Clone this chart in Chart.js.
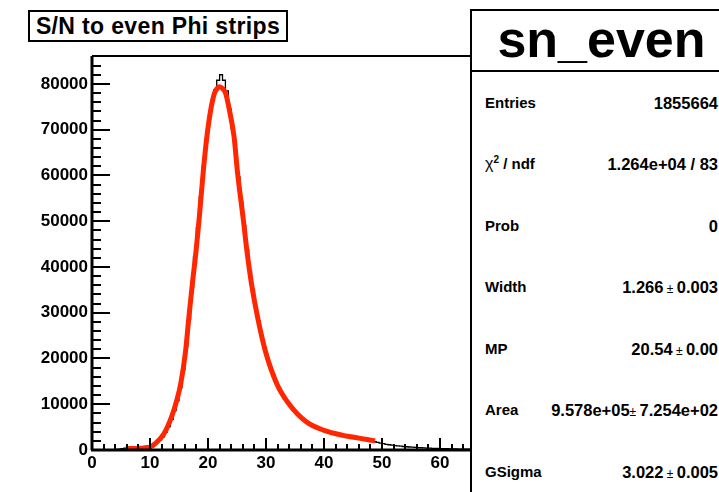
<!DOCTYPE html>
<html>
<head>
<meta charset="utf-8">
<script src="https://cdn.jsdelivr.net/npm/chart.js@4.4.1/dist/chart.umd.min.js"></script>
<style>
  html, body { margin: 0; padding: 0; background: #fff; }
  #wrap { position: relative; width: 719px; height: 492px; overflow: hidden; font-family: "Liberation Sans", Arial, sans-serif; }
  #c { position: absolute; left: 0; top: 0; }
  .title {
    position: absolute; left: 28px; top: 10px; width: 256px; height: 28px;
    border: 2px solid #000; background: #fff;
    font-weight: bold; font-size: 23px; letter-spacing: 0.35px; line-height: 28px; text-align: center; color: #000;
  }
  .stats {
    position: absolute; left: 470px; top: 9px; width: 259px; height: 520px;
    border: 2px solid #000; background: #fff; color: #000;
  }
  .stats .head {
    height: 59px; border-bottom: 2px solid #000;
    font-weight: bold; font-size: 52px; line-height: 56px; text-align: center;
  }
  .row { position: absolute; left: 13px; right: 13px; height: 20px; line-height: 20px; font-weight: bold; }
  .row .lab { position: absolute; left: 0; font-size: 15px; }
  .row .val { position: absolute; right: 0; font-size: 16.5px; white-space: nowrap; }
  .pm { font-weight: normal; font-size: 12px; }
  .chi { font-weight: normal; font-size: 16px; }
  sup { font-size: 10px; line-height: 0; vertical-align: 6px; }
</style>
</head>
<body>
<div id="wrap">
  <canvas id="c" width="719" height="492"></canvas>
  <div class="title">S/N to even Phi strips</div>
  <div class="stats">
    <div class="head">sn_even</div>
    <div class="row" style="top:82px"><span class="lab">Entries</span><span class="val">1855664</span></div>
    <div class="row" style="top:143px"><span class="lab"><span class="chi">&chi;</span><sup>2</sup> / ndf</span><span class="val">1.264e+04 / 83</span></div>
    <div class="row" style="top:205px"><span class="lab">Prob</span><span class="val">0</span></div>
    <div class="row" style="top:266px"><span class="lab">Width</span><span class="val">1.266<span class="pm"> &plusmn; </span>0.003</span></div>
    <div class="row" style="top:328px"><span class="lab">MP</span><span class="val">20.54<span class="pm"> &plusmn; </span>0.00</span></div>
    <div class="row" style="top:389px"><span class="lab">Area</span><span class="val">9.578e+05<span class="pm">&plusmn; </span>7.254e+02</span></div>
    <div class="row" style="top:451px"><span class="lab">GSigma</span><span class="val">3.022<span class="pm"> &plusmn; </span>0.005</span></div>
  </div>
</div>
<script>
// histogram: 0.5-wide bins starting at 0 (counts)
const BIN_WIDTH = 0.5;
const counts = [
  0, 0, 0, 0, 0, 10, 30, 60, 120, 200,
  300, 400, 480, 560, 620, 650, 680, 720, 780, 880,
  1050, 1300, 1700, 2200, 2900, 3900, 5100, 6700, 8600, 10800,
  13600, 17500, 22600, 28600, 35400, 42300, 48600, 55300, 62000, 68000,
  72800, 76300, 78700, 80800, 82000, 80800, 78500, 74500, 70200, 65400,
  59700, 54200, 49000, 43800, 39200, 35100, 31400, 28200, 25100, 22400,
  20200, 18200, 16500, 14900, 13500, 12300, 11200, 10300, 9500, 8700,
  8000, 7400, 6900, 6400, 6000, 5600, 5300, 5000, 4700, 4450,
  4250, 4050, 3850, 3650, 3500, 3350, 3200, 3050, 2950, 2850,
  2700, 2600, 2500, 2400, 2250, 2100, 1950, 1800, 1650, 1500,
  1380, 1250, 1150, 1050, 970, 900, 830, 770, 710, 660,
  610, 570, 530, 490, 460, 430, 400, 370, 350, 330,
  310, 290, 270, 255, 240, 225, 210, 200, 190, 180,
  170
];

// Landau (x) Gauss fit curve
const fitX = [5.8, 7, 8, 9, 10, 10.9, 12.4, 13.7, 14.6, 15.3, 16.15, 16.7, 17.3, 17.9,
  18.45, 19.2, 19.8, 20.45, 21.1, 21.5, 21.95, 22.5, 23.05, 23.7, 24.5, 25.05, 26.1, 26.7, 27.5,
  28.55, 29.85, 31.85, 34, 37, 40, 43.3, 46, 48.8];
const fitY = [300, 320, 350, 420, 650, 1400, 3560, 7200, 10800, 14500, 21800, 29000, 36300, 43000,
  50200, 61100, 68400, 74200, 77900, 78900, 79400, 79000, 77900, 74200, 68400, 61100, 50200, 43600, 36300,
  29000, 21800, 14500, 10000, 6100, 4300, 3200, 2600, 2000];

const X_MAX = 65.34;
const Y_MAX = 86100;
const xTicks = [0, 10, 20, 30, 40, 50, 60];
const yTicks = [0, 10000, 20000, 30000, 40000, 50000, 60000, 70000, 80000];

const histPts = counts.map((v, i) => ({ x: i * BIN_WIDTH, y: v }));
histPts.push({ x: counts.length * BIN_WIDTH, y: counts[counts.length - 1] });
const fitPts = fitX.map((x, i) => ({ x: x, y: fitY[i] }));

// ROOT-style frame: inward ticks, thick axis lines
const rootFrame = {
  id: 'rootFrame',
  afterDatasetsDraw(chart) {
    const { ctx, chartArea: a, scales: { x, y } } = chart;
    ctx.save();
    ctx.strokeStyle = '#000';
    ctx.lineCap = 'butt';

    ctx.lineWidth = 2;
    for (let v = 0; v <= X_MAX; v += 2) {
      const px = Math.round(x.getPixelForValue(v));
      const len = v % 10 === 0 ? 12 : 6;
      ctx.beginPath(); ctx.moveTo(px, a.bottom); ctx.lineTo(px, a.bottom - len); ctx.stroke();
    }
    for (let v = 0; v <= Y_MAX; v += 2000) {
      const py = Math.round(y.getPixelForValue(v));
      const len = v % 10000 === 0 ? 18 : 9;
      ctx.beginPath(); ctx.moveTo(a.left, py); ctx.lineTo(a.left + len, py); ctx.stroke();
    }

    // frame top
    ctx.lineWidth = 2;
    ctx.beginPath(); ctx.moveTo(a.left, a.top); ctx.lineTo(a.right, a.top); ctx.stroke();
    // axes
    ctx.lineWidth = 3;
    ctx.beginPath(); ctx.moveTo(a.left, a.top); ctx.lineTo(a.left, a.bottom); ctx.stroke();
    ctx.beginPath(); ctx.moveTo(a.left - 1, a.bottom); ctx.lineTo(a.right, a.bottom); ctx.stroke();
    ctx.restore();
  }
};

const tickFont = { family: '"Liberation Sans", Arial, sans-serif', size: 17, weight: 'bold' };

new Chart(document.getElementById('c'), {
  type: 'line',
  data: {
    datasets: [
      {
        label: 'fit',
        data: fitPts,
        borderColor: '#ff2600',
        borderWidth: 5,
        pointRadius: 0,
        cubicInterpolationMode: 'monotone',
        fill: false,
      },
      {
        label: 'sn_even',
        data: histPts,
        stepped: 'before',
        borderColor: '#000',
        borderWidth: 1.3,
        pointRadius: 0,
        fill: false,
      },
    ],
  },
  options: {
    responsive: false,
    animation: false,
    devicePixelRatio: 1,
    layout: { padding: { left: 0, top: 56, right: 248, bottom: 0 } },
    plugins: { legend: { display: false }, tooltip: { enabled: false } },
    scales: {
      x: {
        type: 'linear',
        min: 0,
        max: X_MAX,
        afterFit(s) { s.height = 42; },
        afterBuildTicks(s) { s.ticks = xTicks.map(v => ({ value: v })); },
        grid: { display: false, drawTicks: false },
        border: { display: false },
        ticks: { color: '#000', font: tickFont, padding: 3, maxRotation: 0, autoSkip: false },
      },
      y: {
        min: 0,
        max: Y_MAX,
        afterFit(s) { s.width = 92; },
        afterBuildTicks(s) { s.ticks = yTicks.map(v => ({ value: v })); },
        grid: { display: false, drawTicks: false },
        border: { display: false },
        ticks: { color: '#000', font: tickFont, padding: 4, autoSkip: false, callback: v => String(v) },
      },
    },
  },
  plugins: [rootFrame],
});
</script>
</body>
</html>
